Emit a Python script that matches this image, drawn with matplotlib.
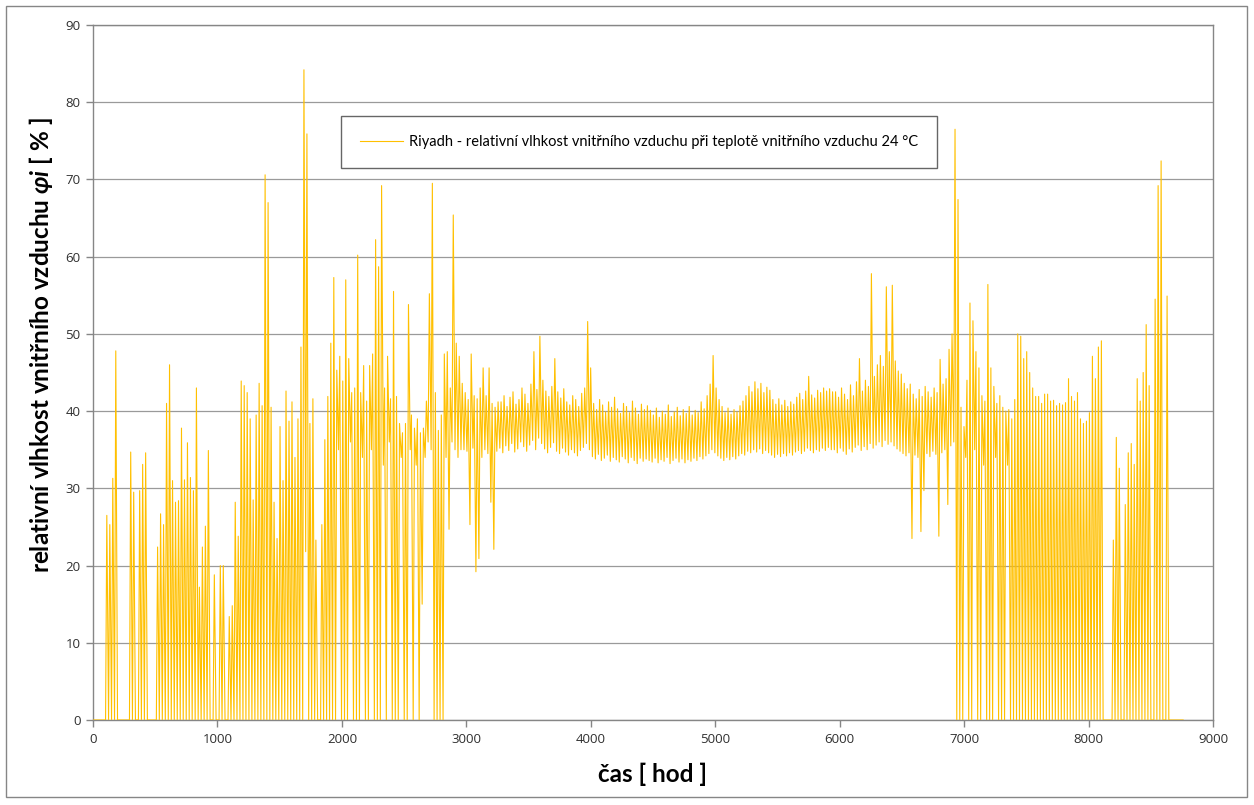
import matplotlib
matplotlib.use("Agg")
import matplotlib.pyplot as plt
from matplotlib.patches import Rectangle
from matplotlib import font_manager
import numpy as np

# ---------------- data ----------------
# daily maximum / minimum of indoor relative humidity [%], day 0 .. 364
max_a = [0, 0, 0, 0, 26.5, 25.3, 31.3, 47.8, 0, 0, 0, 0, 34.7, 29.5, 0, 29.7,
         33.1, 34.6, 0, 0, 0, 22.4, 26.7, 25.3, 41.0, 46.0, 31.0, 28.2, 28.4, 37.8,
         31.1, 35.9, 31.4, 29.7, 43.0, 17.2, 22.4, 25.1, 34.9, 0, 18.8, 0, 20.0,
         20.0, 0, 13.4, 14.8, 28.2, 23.8, 43.9, 43.3, 42.4, 39.0, 28.5, 39.5, 43.6,
         40.7, 70.6, 67.0, 40.5, 28.2, 23.5]
min_a = [0] * 62

max_b = [38.0, 31.0, 42.6, 38.7, 41.2, 34.0, 39.0, 48.3, 84.2, 75.9, 38.4, 41.6,
         23.3, 0,
         25.3, 36.3, 41.9, 48.8, 57.3, 45.3, 47.1, 43.9, 57.0, 46.8, 42.4, 43.0,
         60.2, 42.4, 45.9, 41.3, 45.9, 47.4, 62.2, 58.7, 69.2, 43.0, 47.1, 41.6,
         55.5, 41.9, 38.4, 37.2, 38.4, 53.8, 39.5, 37.8, 39.0, 37.2, 37.8, 41.3,
         55.2, 69.5, 42.4, 37.5, 39.5, 47.4, 47.7, 43.0, 65.4, 48.8, 47.1, 43.6]
min_b = [0, 0, 0, 0, 0, 0, 0, 0, 0, 21.8, 0, 0, 0, 0,
         0, 0, 0, 0, 0, 0, 35.0, 0, 0, 0, 36.0, 0, 0, 0, 34.0, 0, 0, 35.0,
         0, 0, 0, 33.0, 0, 36.0, 0, 0,
         0, 34.0, 0, 0, 35.0, 0, 33.0, 0, 15.0, 34.0, 36.0, 35.0, 0, 0, 0, 0,
         34.0, 24.7, 36.0, 35.0, 34.0, 35.0]

max_c = [42.4, 41.5, 47.4, 42.0, 41.6, 43.0, 45.6, 42.0, 45.6, 41.0, 40.5, 41.2,
         41.2, 42.0, 40.6, 41.8, 42.5, 40.9, 41.5, 43.0, 42.2, 41.0, 43.5, 47.7,
         42.8, 49.7, 44.0, 42.6, 41.9, 43.2, 46.8, 42.5, 41.7, 42.9, 41.2, 40.8,
         42.0, 41.5, 40.6, 42.3, 43.0, 51.6, 45.6, 41.0, 40.2, 41.5, 40.8, 39.9,
         41.2, 40.5, 41.8, 40.3, 39.7, 41.0, 40.6, 39.8, 41.3, 40.4, 39.6, 40.9,
         40.2, 40.7,
         40.1, 39.5, 40.4, 39.2, 40.0, 39.6, 40.8, 39.3, 39.9, 40.5, 39.4, 40.2,
         39.7, 40.6, 39.5, 40.1, 39.8, 41.2, 40.3, 42.0, 43.5, 47.2, 43.0, 41.5,
         40.6, 39.8, 40.4, 39.6, 40.2, 39.9, 40.7, 41.3, 42.0, 43.2, 42.5, 43.8,
         42.9, 43.6, 42.4, 43.1, 42.7, 41.5, 40.9, 41.6, 40.8, 41.4, 40.6, 41.2,
         40.9, 41.8, 42.3, 41.5, 42.6, 44.5, 42.1, 41.7, 42.7, 42.4, 43.0, 42.6,
         42.9, 42.5,
         42.5, 41.8, 43.0, 42.2, 41.5, 43.4, 42.0, 43.8, 46.8, 42.6, 44.0, 43.2,
         57.8, 44.5, 46.0, 47.2, 45.8, 56.1, 47.7, 56.3, 46.5, 45.2, 44.8, 43.6,
         42.9, 43.5, 42.2, 41.6, 42.8, 41.9, 43.2, 42.5, 41.8, 43.0, 42.4, 46.7,
         43.5, 44.2, 48.0, 50.0, 76.5, 67.4]
min_c = [35.0, 34.8, 25.3, 35.2, 19.2, 20.9, 34.0, 35.0, 34.5, 28.2, 22.1, 34.8,
         35.2, 34.6, 35.5, 34.9, 35.8, 34.7, 35.1, 36.0, 35.4, 34.8, 35.6, 36.2,
         35.0, 36.5, 35.8, 35.1, 34.6, 35.3, 35.9, 34.8, 34.5, 35.2, 34.7, 34.3,
         35.0, 34.6, 34.2, 34.9, 35.3, 35.8, 35.0, 34.1, 33.8, 34.4, 33.6, 33.9,
         34.3, 33.5, 34.0, 33.7, 33.4, 34.1, 33.8, 33.3, 34.0, 33.6, 33.2, 33.9,
         33.5, 33.8,
         33.6, 33.4, 33.9, 33.3, 33.7, 33.5, 34.0, 33.2, 33.6, 33.9, 33.4, 33.8,
         33.3, 33.7, 33.5, 33.9, 33.6, 34.1, 33.8, 34.2, 34.5, 35.0, 34.6, 34.2,
         33.9, 33.6, 34.0, 33.7, 34.1, 33.8, 34.2, 34.5, 34.3, 34.8, 34.6, 35.0,
         34.7, 35.1, 34.5, 34.9, 34.6, 34.3, 34.0, 34.4, 34.1, 34.5, 34.2, 34.6,
         34.3, 34.7, 34.9, 34.5, 34.8, 35.2, 34.9, 34.6, 35.0, 34.8, 35.2, 34.9,
         35.3, 35.0,
         35.0, 34.6, 35.2, 34.8, 34.4, 35.1, 34.7, 35.3, 35.6, 34.9, 35.4, 35.0,
         35.8, 35.2, 35.6, 36.0, 35.4, 36.2, 35.7, 36.0, 35.5, 35.1, 34.8, 34.5,
         34.2, 34.6, 23.5, 34.3, 34.0, 24.4, 29.7, 34.5, 34.1, 34.8, 34.4, 23.8,
         34.6, 35.0, 27.9, 35.5, 36.0, 0]

max_d = [40.5, 38.0, 44.0, 54.0, 51.7, 47.7, 45.6, 42.0, 41.3, 56.4, 45.6, 43.2,
         41.0, 42.0, 40.5, 40.0, 40.2, 39.0, 41.5, 50.0,
         49.7, 46.8, 47.7, 45.0, 43.0, 41.9, 41.9, 41.0, 42.2, 42.2, 41.3, 41.4,
         40.7, 41.0, 40.8, 41.1, 44.2, 41.9, 41.3, 42.4, 39.0, 38.4, 38.7, 39.8,
         47.1, 44.2, 48.3, 49.1, 0, 0, 0, 23.3, 36.6, 32.6, 0, 27.9, 34.6, 35.8,
         33.1, 44.2, 41.3, 45.0, 51.2, 43.3, 0, 54.5, 69.2, 72.4, 0, 54.9,
         0, 0, 0, 0, 0]
min_d = [0, 0, 34.0, 0, 0, 35.0, 0, 0, 33.0, 0, 0, 0, 34.0, 0, 0, 0, 33.0, 0, 0, 0,
         0, 0, 0, 0, 0, 0, 0, 0, 0, 0, 0, 0, 0, 0, 0, 0, 0, 0, 0, 0, 0, 0, 0, 0,
         0, 0, 0, 0, 0, 0, 0, 0, 0, 0, 0, 0, 0, 0, 0, 0, 0, 0, 0, 0, 0, 0, 0, 0,
         0, 0, 0, 0, 0, 0, 0]

day_max = max_a + max_b + max_c + max_d
day_min = min_a + min_b + min_c + min_d
assert len(day_max) == 365 and len(day_min) == 365, (len(day_max), len(day_min))

legend_label = "Riyadh - relativní vlhkost vnitřního vzduchu při teplotě vnitřního vzduchu 24 °C"
x_ticks = [0, 1000, 2000, 3000, 4000, 5000, 6000, 7000, 8000, 9000]
y_ticks = [0, 10, 20, 30, 40, 50, 60, 70, 80, 90]

# ---------------- polyline positioned in hours ----------------
hours, values = [0], [day_min[0]]
for d, (mx, mn) in enumerate(zip(day_max, day_min)):
    hours += [24 * d + 5, 24 * d + 15]
    values += [mn, mx]
hours += [24 * 365 - 3, 8760]
values += [day_min[-1], day_min[-1]]

# ---------------- fonts ----------------
def has_font(name):
    try:
        font_manager.findfont(font_manager.FontProperties(family=name),
                              fallback_to_default=False)
        return True
    except Exception:
        return False

label_font = 'Liberation Sans Narrow' if has_font('Liberation Sans Narrow') else 'Lato'
legend_font = 'Lato'
tick_font = 'Open Sans'

plt.rcParams['mathtext.fontset'] = 'custom'
plt.rcParams['mathtext.it'] = f'{label_font}:bold:italic'
plt.rcParams['mathtext.rm'] = f'{label_font}:bold'

# ---------------- figure ----------------
W, H = 1254, 805
fig = plt.figure(figsize=(W / 100, H / 100), dpi=100)
fig.patch.set_facecolor('white')
ax = fig.add_axes([93 / W, 1 - 720 / H, (1213 - 93) / W, (720 - 25) / H])

ax.plot(hours, values, color='#FFC000', lw=0.8, label=legend_label, zorder=3)

ax.set_xlim(0, 9000)
ax.set_ylim(0, 90)
ax.set_xticks(x_ticks)
ax.set_yticks(y_ticks)
ax.grid(axis='y', color='#9A9A9A', lw=0.9)
ax.set_axisbelow(True)
for s in ax.spines.values():
    s.set_color('#868686')
    s.set_linewidth(1.0)
ax.tick_params(axis='both', direction='out', length=5, width=1, color='#868686',
               labelsize=9.5, labelcolor='#303030', pad=4)
for lab in ax.get_xticklabels() + ax.get_yticklabels():
    lab.set_family(tick_font)

ax.set_xlabel('čas [ hod ]', family=label_font, fontweight='bold',
              fontsize=17.5, labelpad=12)
ax.set_ylabel('relativní vlhkost vnitřního vzduchu $φi$ [ % ]',
              family=label_font, fontweight='bold', fontsize=17.5)
ax.yaxis.set_label_coords(-0.034, 0.54)

leg = ax.legend(loc='center', bbox_to_anchor=(639 / W, 1 - 142 / H),
                bbox_transform=fig.transFigure, fancybox=False, frameon=True,
                prop={'family': legend_font, 'size': 10.5}, handlelength=3.0,
                handletextpad=0.4, borderpad=1.3)
leg.get_frame().set_edgecolor('#404040')
leg.get_frame().set_linewidth(1.0)

fig.patches.append(Rectangle((6 / W, 1 - 797 / H), (1247 - 6) / W, (797 - 6) / H,
                             transform=fig.transFigure, fill=False,
                             edgecolor='#868686', lw=1.0))

fig.savefig('out.png', dpi=100, facecolor='white')
